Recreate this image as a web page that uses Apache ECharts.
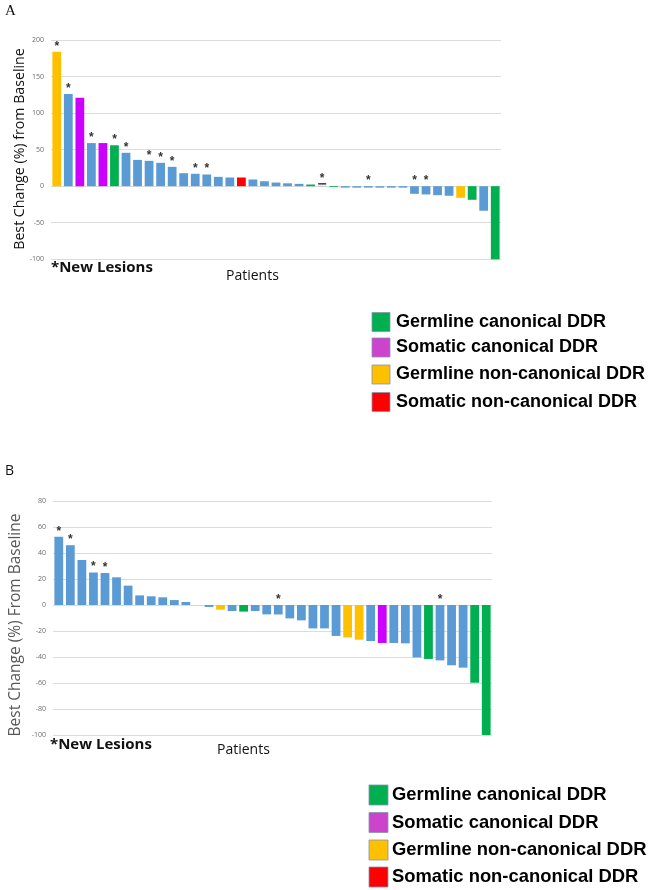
<!DOCTYPE html>
<html>
<head>
<meta charset="utf-8">
<script src="https://cdn.jsdelivr.net/npm/echarts@6/dist/echarts.min.js"></script>
<style>
html,body{margin:0;padding:0;background:#fff;}
#chart{width:650px;height:890px;}
</style>
</head>
<body>
<div id="chart"></div>
<script>
// ---------- DATA ----------
// Panel A
const valuesA = [184,126,121,59,59,56,45.7,36,34.7,32,26.5,17.8,17,16,12.8,11.9,11.9,9.2,6.8,5,4,3.2,2.3,0.5,-1.2,-2,-2,-2,-2,-2,-2,-10.4,-11.3,-12.3,-13.1,-15.9,-18.6,-33.6,-100];
const groupsA = ['Y','B','S','B','S','G','B','B','B','B','B','B','B','B','B','B','R','B','B','B','B','B','G','B','G','B','B','B','B','B','B','B','B','B','B','Y','G','B','G'];
// 0 = none, 1 = new lesion asterisk, 2 = asterisk with dash
const newLesionA = [1,1,0,1,0,1,1,0,1,1,1,0,1,1,0,0,0,0,0,0,0,0,0,2,0,0,0,1,0,0,0,1,1,0,0,0,0,0,0];
const patientsA = valuesA.map((v,i)=>'A'+(i+1));

// Panel B
const valuesB = [52.5,46,34.6,25,24.6,21.3,14.9,7.4,6.7,5.9,3.8,2.3,-0.6,-1.5,-3.6,-4.6,-5.1,-4.6,-7.2,-7.3,-10.3,-11.8,-18,-18,-23.8,-24.9,-26.7,-27.7,-29.2,-29.2,-29.5,-40.3,-41.5,-42.6,-46.4,-48.2,-59.8,-100];
const groupsB = ['B','B','B','B','B','B','B','B','B','B','B','B','L','B','Y','B','G','B','B','B','B','B','B','B','B','Y','Y','B','S','B','B','B','G','B','B','B','G','G'];
const newLesionB = [1,1,0,1,1,0,0,0,0,0,0,0,0,0,0,0,0,0,0,1,0,0,0,0,0,0,0,0,0,0,0,0,0,1,0,0,0,0];
const patientsB = valuesB.map((v,i)=>'B'+(i+1));

const ticksA = {min:-100, max:200, interval:50};
const ticksB = {min:-100, max:80, interval:20};

const legendLabels = ['Germline canonical DDR','Somatic canonical DDR','Germline non-canonical DDR','Somatic non-canonical DDR'];
const legendGroups = ['G','S','Y','R'];

const titleA = 'Best Change (%) from Baseline';
const titleB = 'Best Change (%) From Baseline';
const xTitle = 'Patients';
const noteText = '*New Lesions';

// ---------- STYLE ----------
const barColors = {B:'#5B9BD5', G:'#00B050', S:'#CC00FF', Y:'#FFC000', R:'#FF0000', L:'#BDD7EE'};
const legendColors = {G:'#00B050', S:'#CC44CC', Y:'#FFC000', R:'#FF0000'};

const chart = echarts.init(document.getElementById('chart'), null, {renderer:'canvas'});

function barSeries(vals, groups, xi){
  return {
    type:'bar', xAxisIndex:xi, yAxisIndex:xi,
    barCategoryGap:'24%', barGap:'-100%',
    data: vals.map((v,i)=>({value:v, itemStyle:{color:barColors[groups[i]]}})),
    silent:true, animation:false
  };
}
function starSeries(vals, flags, xi){
  return {
    type:'bar', xAxisIndex:xi, yAxisIndex:xi,
    barCategoryGap:'24%', barGap:'-100%',
    data: vals.map((v,i)=>({
      value: Math.max(v,0),
      itemStyle:{color:'rgba(0,0,0,0)'},
      label:{
        show: flags[i]>0,
        position:'top', distance:1,
        formatter: flags[i]===2 ? '{s|*}\n{d|}' : '{s|*}',
        rich:{
          s:{fontSize:12, fontWeight:'bold', color:'#333', fontFamily:'Liberation Sans', lineHeight:9},
          d:{width:8, height:1.6, backgroundColor:'#444', lineHeight:2}
        }
      }
    })),
    silent:true, animation:false, z:3
  };
}
function yAx(t, gi){
  return {
    type:'value', gridIndex:gi, min:t.min, max:t.max, interval:t.interval,
    axisLine:{show:false}, axisTick:{show:false},
    axisLabel:{fontSize:7, color:'#6b6b6b', fontFamily:'Open Sans', margin:7},
    splitLine:{lineStyle:{color:'#dcdcdc', width:1}}
  };
}
function xAx(cats, gi){
  return {
    type:'category', gridIndex:gi, data:cats,
    axisLine:{show:false}, axisTick:{show:false}, axisLabel:{show:false}, splitLine:{show:false}
  };
}

const graphics = [];
// Panel letters
graphics.push({type:'text', left:5, top:4, style:{text:'A', font:'15px "Liberation Serif"', fill:'#111'}});
graphics.push({type:'text', left:5, top:464, style:{text:'B', font:'14px "Open Sans"', fill:'#111'}});
// Y titles
graphics.push({type:'text', x:20, y:149, rotation:Math.PI/2, style:{text:titleA, font:'14.2px "Open Sans"', fill:'#111', textAlign:'center', textVerticalAlign:'middle'}});
graphics.push({type:'text', x:16, y:625, rotation:Math.PI/2, style:{text:titleB, font:'15.5px "Open Sans"', fill:'#595959', textAlign:'center', textVerticalAlign:'middle'}});
// Notes and x titles
graphics.push({type:'text', x:51, y:268, style:{text:noteText, font:'bold 15px "Open Sans"', fill:'#111', textVerticalAlign:'middle'}});
graphics.push({type:'text', x:226, y:276, style:{text:xTitle, font:'14px "Open Sans"', fill:'#111', textVerticalAlign:'middle'}});
graphics.push({type:'text', x:50, y:745, style:{text:noteText, font:'bold 15px "Open Sans"', fill:'#111', textVerticalAlign:'middle'}});
graphics.push({type:'text', x:217, y:750, style:{text:xTitle, font:'14px "Open Sans"', fill:'#111', textVerticalAlign:'middle'}});

// Legends
function addLegend(x, ys, boxW, boxH, textX, fontSize){
  legendGroups.forEach((g,i)=>{
    graphics.push({type:'rect', shape:{x:x, y:ys[i]-boxH/2, width:boxW, height:boxH},
      style:{fill:legendColors[g], stroke:'#8496b0', lineWidth:0.8}});
    graphics.push({type:'text', x:textX, y:ys[i], style:{text:legendLabels[i], font:'bold '+fontSize+'px "Liberation Sans"', fill:'#000', textVerticalAlign:'middle'}});
  });
}
addLegend(372, [322,347.5,374.5,402], 18, 19, 396, 18);
addLegend(369, [795,822.5,850,877], 19, 20, 392, 18.4);

chart.setOption({
  animation:false,
  grid:[
    {left:51, right:149, top:40, bottom:630.7},
    {left:53, right:158, top:501, bottom:155}
  ],
  xAxis:[xAx(patientsA,0), xAx(patientsB,1)],
  yAxis:[yAx(ticksA,0), yAx(ticksB,1)],
  series:[
    barSeries(valuesA, groupsA, 0),
    starSeries(valuesA, newLesionA, 0),
    barSeries(valuesB, groupsB, 1),
    starSeries(valuesB, newLesionB, 1)
  ],
  graphic: graphics
});
</script>
</body>
</html>
